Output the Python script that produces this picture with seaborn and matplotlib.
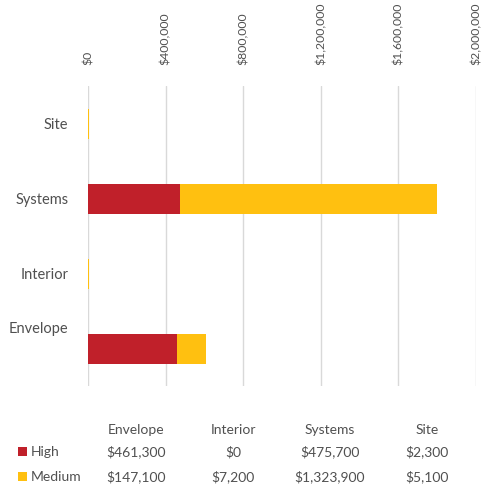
import matplotlib
matplotlib.use("Agg")
import matplotlib.pyplot as plt
import matplotlib.transforms as mtransforms
from matplotlib.ticker import FuncFormatter
import seaborn as sns
import pandas as pd

categories = ["Envelope", "Interior", "Systems", "Site"]
high = [461300, 0, 475700, 2300]
medium = [147100, 7200, 1323900, 5100]
series_names = ["High", "Medium"]
x_ticks = [0, 400000, 800000, 1200000, 1600000, 2000000]

RED = "#C0202A"
YEL = "#FFC010"
TXT = "#505050"

sns.set_theme(style="white")
plt.rcParams["font.family"] = ["Lato", "DejaVu Sans"]

df = pd.DataFrame({"cat": categories, "High": high, "Medium": medium})
df["Total"] = df["High"] + df["Medium"]
order = ["Site", "Systems", "Interior", "Envelope"]

fig = plt.figure(figsize=(4.83, 4.88), dpi=100)
ax = fig.add_axes([88/483, 1-386/488, (476-88)/483, 300/488])

sns.barplot(data=df, y="cat", x="Total", order=order, color=YEL, width=0.4,
            saturation=1, orient="h", linewidth=0, ax=ax)
sns.barplot(data=df, y="cat", x="High", order=order, color=RED, width=0.4,
            saturation=1, orient="h", linewidth=0, ax=ax)

ax.set_xlim(0, 2000000)
ax.set_xticks(x_ticks)
ax.xaxis.set_major_formatter(FuncFormatter(lambda v, p: "${:,.0f}".format(v)))
ax.xaxis.tick_top()
ax.tick_params(axis="x", length=0, pad=15, labelsize=8.8, labelcolor=TXT, labelrotation=90)
ax.tick_params(axis="y", length=0, pad=14, labelsize=10.5, labelcolor=TXT)
for lab in ax.get_xticklabels():
    lab.set_verticalalignment("bottom")
ax.grid(axis="x", color="#D9D9D9", linewidth=1)
ax.set_axisbelow(True)
for s in ax.spines.values():
    s.set_visible(False)
ax.set_xlabel("")
ax.set_ylabel("")

# Envelope label sits higher in the reference
for lab in ax.get_yticklabels():
    if lab.get_text() == "Envelope":
        lab.set_transform(lab.get_transform() + mtransforms.ScaledTranslation(0, 21/100, fig.dpi_scale_trans))

# data table
col_x = [136, 233, 330, 427]
row_y = [430, 452, 477]
fs = 10
for cx, c in zip(col_x, categories):
    fig.text(cx/483, 1-row_y[0]/488, c, ha="center", va="center", fontsize=fs, color=TXT)
fmt = lambda v: "${:,.0f}".format(v)
for ry, name, vals, col in [(row_y[1], series_names[0], high, RED), (row_y[2], series_names[1], medium, YEL)]:
    fig.patches.append(plt.Rectangle((18/483, 1-(ry+4)/488), 9/483, 9/488, transform=fig.transFigure,
                                     facecolor=col, edgecolor="none"))
    fig.text(31/483, 1-ry/488, name, ha="left", va="center", fontsize=fs, color=TXT)
    for cx, v in zip(col_x, vals):
        fig.text(cx/483, 1-ry/488, fmt(v), ha="center", va="center", fontsize=fs, color=TXT)

fig.savefig("out.png", dpi=100)
